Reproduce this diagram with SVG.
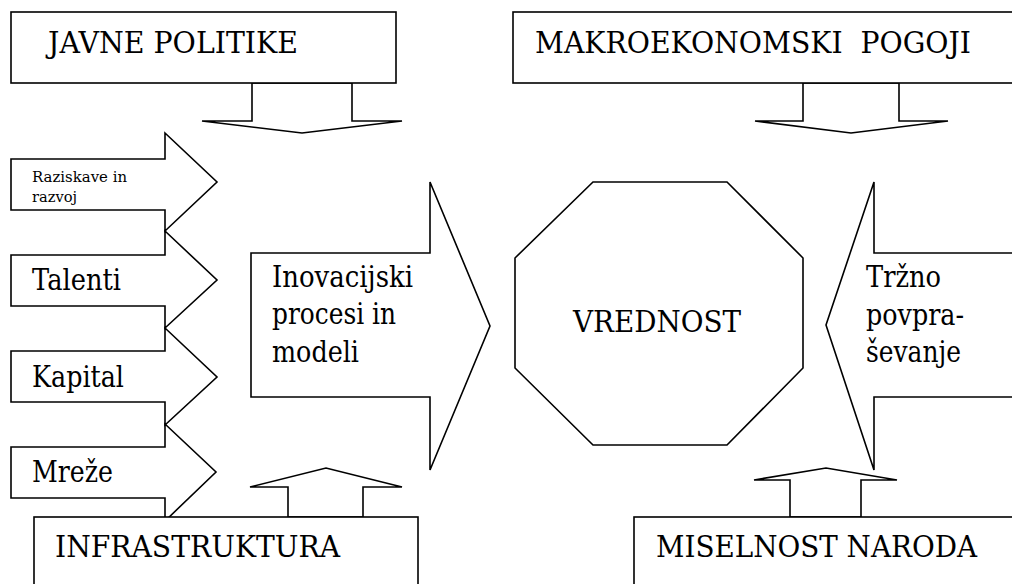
<svg xmlns="http://www.w3.org/2000/svg" width="1012" height="584" viewBox="0 0 1012 584">
<style>
.s{fill:#fff;stroke:#000;stroke-width:1.6;stroke-linejoin:miter}
text{font-family:'DejaVu Serif','Liberation Serif',serif;fill:#000}
.t{font-size:29px}
.sm{font-size:15px}
</style>
<defs>
<clipPath id="rzclip"><rect x="11" y="160" width="154" height="45"/></clipPath>
</defs>
<rect width="1012" height="584" fill="#fff"/>
<g id="connectors">
<polygon class="s" points="252,83 252,121 202,121 302,133 402,121 352,121 352,83"/>
<polygon class="s" points="803,83 803,121 755,121 851,133 948,121 899,121 899,83"/>
<polygon class="s" points="288,517 288,487 250,487 326,468 402,487 363,487 363,517"/>
<polygon class="s" points="790,517 790,480 754,480 826,468 897,480 861,480 861,517"/>
</g>
<g id="raziskave">
<polygon class="s" points="11,159 165,159 165,133 217,182 165,231 165,210 11,210"/>
<g clip-path="url(#rzclip)">
<text class="sm" x="32" y="182" textLength="95" lengthAdjust="spacingAndGlyphs">Raziskave in</text>
<text class="sm" x="32" y="202" textLength="45" lengthAdjust="spacingAndGlyphs">razvoj</text>
</g>
</g>
<g id="talenti">
<polygon class="s" points="11,255 165,255 165,231 217,280 165,328 165,306 11,306"/>
<text class="t" x="32" y="290" textLength="89" lengthAdjust="spacingAndGlyphs">Talenti</text>
</g>
<g id="kapital">
<polygon class="s" points="11,351 165,351 165,328 217,377 165,425 165,402 11,402"/>
<text class="t" x="32" y="387" textLength="92" lengthAdjust="spacingAndGlyphs">Kapital</text>
</g>
<g id="mreze">
<polygon class="s" points="11,447 165,447 165,424 216,472 165,521 165,498 11,498"/>
<text class="t" x="32" y="482" textLength="81" lengthAdjust="spacingAndGlyphs">Mreže</text>
</g>
<g id="inovacijski">
<polygon class="s" points="251,253 430,253 430,182 490,326 430,470 430,397 251,397"/>
<text class="t" x="272" y="287" textLength="141" lengthAdjust="spacingAndGlyphs">Inovacijski</text>
<text class="t" x="272" y="324" textLength="124" lengthAdjust="spacingAndGlyphs">procesi in</text>
<text class="t" x="272" y="362" textLength="87" lengthAdjust="spacingAndGlyphs">modeli</text>
</g>
<g id="vrednost">
<polygon class="s" points="593,182 727,182 803,258 803,368 727,445 593,445 515,368 515,258"/>
<text class="t" x="573" y="332" textLength="168" lengthAdjust="spacingAndGlyphs">VREDNOST</text>
</g>
<g id="trzno">
<polygon class="s" points="1020,253 874,253 874,182 826,325 874,470 874,397 1020,397"/>
<text class="t" x="866" y="287" textLength="75" lengthAdjust="spacingAndGlyphs">Tržno</text>
<text class="t" x="866" y="325" textLength="98" lengthAdjust="spacingAndGlyphs">povpra-</text>
<text class="t" x="866" y="362" textLength="95" lengthAdjust="spacingAndGlyphs">ševanje</text>
</g>
<g id="javne">
<rect class="s" x="11" y="12" width="385" height="71"/>
<text class="t" x="48" y="53" textLength="250" lengthAdjust="spacingAndGlyphs">JAVNE POLITIKE</text>
</g>
<g id="makro">
<rect class="s" x="513" y="12" width="510" height="71"/>
<text class="t" x="535" y="53" xml:space="preserve" style="white-space:pre" textLength="436" lengthAdjust="spacingAndGlyphs">MAKROEKONOMSKI  POGOJI</text>
</g>
<g id="infra">
<rect class="s" x="34" y="517" width="384" height="80"/>
<text class="t" x="55" y="557" textLength="285" lengthAdjust="spacingAndGlyphs">INFRASTRUKTURA</text>
</g>
<g id="miselnost">
<rect class="s" x="634" y="517" width="400" height="80"/>
<text class="t" x="656" y="557" textLength="321" lengthAdjust="spacingAndGlyphs">MISELNOST NARODA</text>
</g>
</svg>
